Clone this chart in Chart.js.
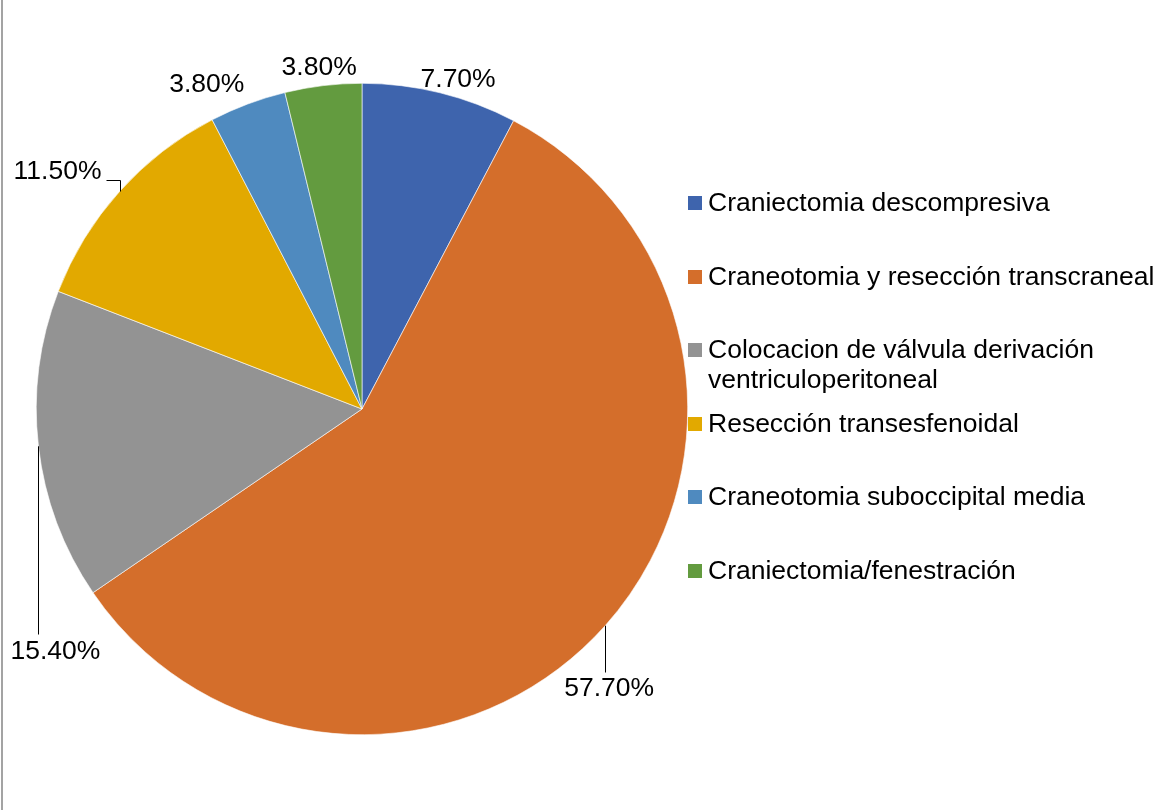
<!DOCTYPE html>
<html>
<head>
<meta charset="utf-8">
<title>Procedimientos</title>
<script src="https://cdn.jsdelivr.net/npm/chart.js"></script>
<style>
    body{ margin:0; background:#ffffff; }
    #chartBox{ width:1159px; height:810px; }
</style>
</head>
<body>
<div id="chartBox"><canvas id="procChart" width="1159" height="810"></canvas></div>
<script>

//  ==================== DATA ====================
let procLabels = [
    'Craniectomia descompresiva',
    'Craneotomia y resección transcraneal',
    ['Colocacion de válvula derivación', 'ventriculoperitoneal'],
    'Resección transesfenoidal',
    'Craneotomia suboccipital media',
    'Craniectomia/fenestración'
];
let procValues = [7.7, 57.7, 15.4, 11.5, 3.8, 3.8];
let procColors = ['#3e64ad', '#d46e2b', '#939393', '#e2a900', '#4f8abf', '#639b3f'];

// where each percentage sits, measured from the middle of its slice edge
let labelShift = [[18, -13], [4, 63], [17, 205], [-62, -20], [-41, -19], [-4, -18]];
let leaderType = ['', 'down', 'down', 'elbow', '', ''];

let fontFamily = '"Liberation Sans", Arial, sans-serif';
let fontSize = 26.5;


//  ==================== PLUGINS ====================
// white page + the grey frame line on the left
let pageBg = {
    id: 'pageBg',
    beforeDraw: function(chart){
        let ctx = chart.ctx;
        ctx.save();
        ctx.fillStyle = '#ffffff';
        ctx.fillRect(0, 0, chart.width, chart.height);
        ctx.fillStyle = '#a3a3a3';
        ctx.fillRect(1, 0, 2, chart.height);
        ctx.restore();
    }
};

// percentage labels with leader lines
let pieLabels = {
    id: 'pieLabels',
    afterDatasetsDraw: function(chart){
        let ctx = chart.ctx;
        let meta = chart.getDatasetMeta(0);
        ctx.save();
        ctx.font = fontSize + 'px ' + fontFamily;
        ctx.textAlign = 'center';
        ctx.textBaseline = 'middle';
        ctx.strokeStyle = '#000000';
        ctx.lineWidth = 1;
        meta.data.forEach(function(arc, i){
            let p = arc.getProps(['x', 'y', 'startAngle', 'endAngle', 'outerRadius'], true);
            let mid = (p.startAngle + p.endAngle) / 2;
            let ax = p.x + Math.cos(mid) * p.outerRadius;
            let ay = p.y + Math.sin(mid) * p.outerRadius;
            let lx = ax + labelShift[i][0];
            let ly = ay + labelShift[i][1];
            let text = procValues[i].toFixed(2) + '%';
            let w = ctx.measureText(text).width;
            let sx = Math.round(ax) + 0.5;

            if(leaderType[i] == 'down'){
                ctx.beginPath();
                ctx.moveTo(sx, ay);
                ctx.lineTo(sx, Math.round(ly - 17) + 0.5);
                ctx.stroke();
            }
            if(leaderType[i] == 'elbow'){
                let ey = Math.round(ly + 8) + 0.5;
                ctx.beginPath();
                ctx.moveTo(sx, ay);
                ctx.lineTo(sx, ey);
                ctx.lineTo(lx + w / 2 + 5, ey);
                ctx.stroke();
            }
            ctx.fillStyle = '#000000';
            ctx.fillText(text, lx, ly);
        });
        ctx.restore();
    }
};

// legend on the right, one square per slice
let sideLegend = {
    id: 'sideLegend',
    afterDraw: function(chart, args, opts){
        let ctx = chart.ctx;
        ctx.save();
        ctx.font = fontSize + 'px ' + fontFamily;
        ctx.textAlign = 'left';
        ctx.textBaseline = 'middle';
        procLabels.forEach(function(label, i){
            let cy = opts.y + i * opts.step;
            ctx.fillStyle = procColors[i];
            ctx.fillRect(opts.x, Math.round(cy - 7), 14, 14);
            ctx.fillStyle = '#000000';
            let lines = Array.isArray(label) ? label : [label];
            lines.forEach(function(line, j){
                ctx.fillText(line, opts.x + 20, cy + 1 + j * 30);
            });
        });
        ctx.restore();
    }
};


//  ==================== CHART ====================
let procChartCtx = document.getElementById('procChart');
let procChart = new Chart(procChartCtx, {
    type: 'pie',
    data: {
        labels: procLabels,
        datasets: [
            {
                data: procValues,
                backgroundColor: procColors,
                borderColor: '#ffffff',
                borderWidth: 0.6
            }
        ]
    },
    options: {
        responsive: false,
        animation: false,
        layout: {
            padding: { left: 36, top: 83, right: 471, bottom: 75 }
        },
        plugins: {
            legend: { display: false },
            tooltip: { enabled: false },
            sideLegend: { x: 688, y: 203, step: 73.5 }
        }
    },
    plugins: [pageBg, pieLabels, sideLegend]
});

</script>
</body>
</html>
